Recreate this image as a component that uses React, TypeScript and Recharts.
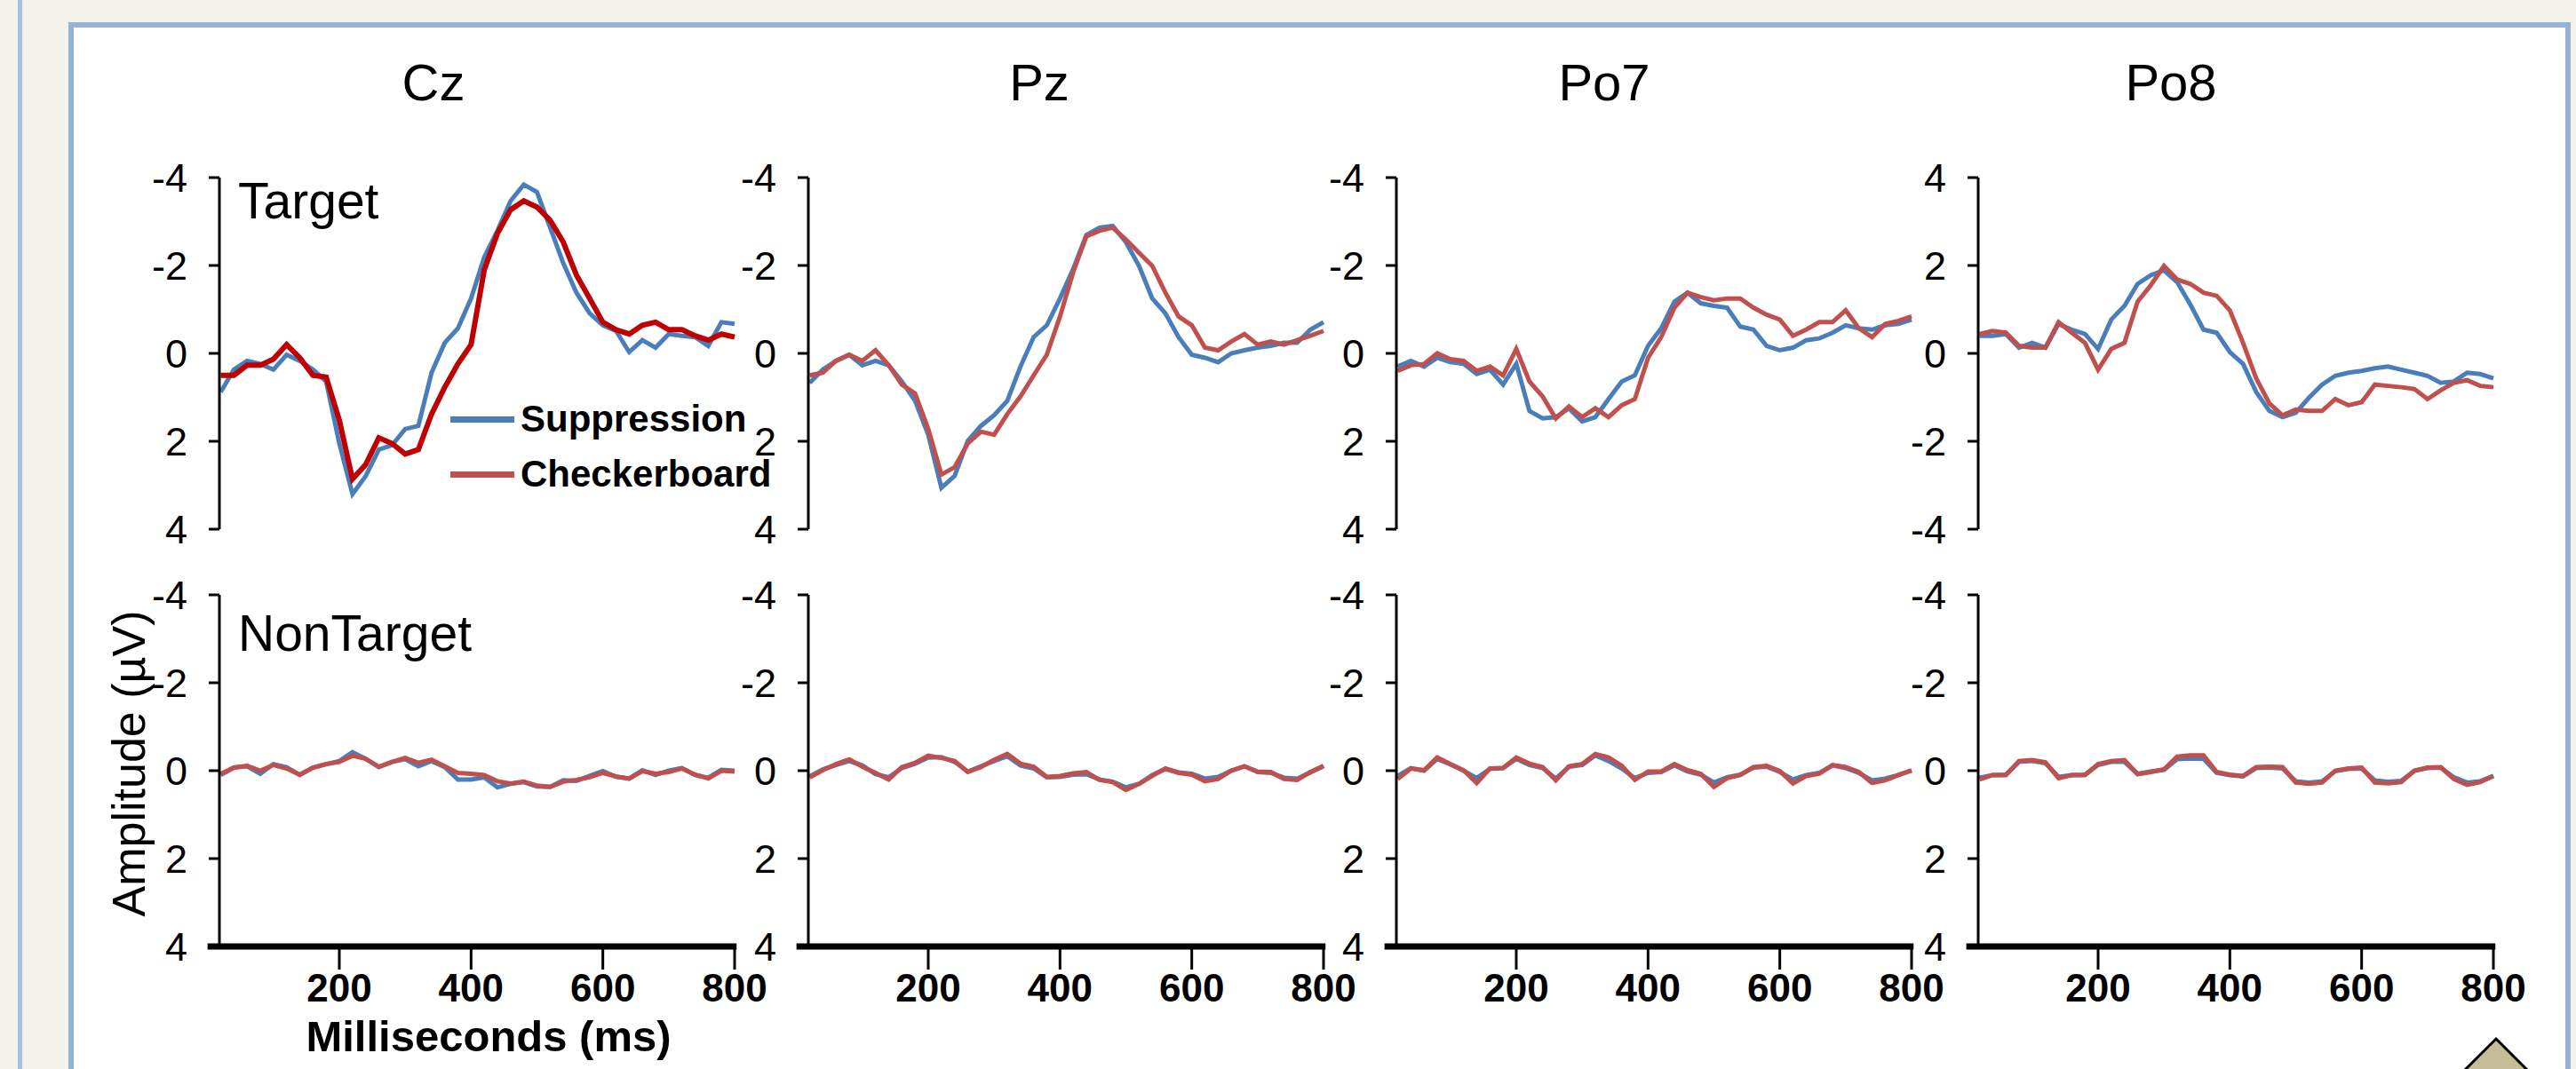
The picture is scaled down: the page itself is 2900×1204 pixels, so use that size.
import { LineChart, Line, XAxis, YAxis, ReferenceLine } from 'recharts';

const FONT = '"Liberation Sans", Arial, sans-serif';
const BLUE = '#4a7ebb';
const RED = '#c0504d';
const CZ_RED = '#c00000';

// time points (ms)
const times = [
  20, 40, 60, 80, 100, 120, 140, 160, 180, 200, 220, 240, 260, 280, 300, 320, 340, 360, 380, 400,
  420, 440, 460, 480, 500, 520, 540, 560, 580, 600, 620, 640, 660, 680, 700, 720, 740, 760, 780, 800,
];
const yTicks = [-4, -2, 0, 2, 4];
const xTicks = [200, 400, 600, 800];

// Target row (µV)
const czTargetSupp = [0.88, 0.37, 0.17, 0.24, 0.37, 0.03, 0.17, 0.37, 0.64, 2.05, 3.2, 2.79, 2.19, 2.09, 1.72, 1.65, 0.44, -0.24, -0.57, -1.25, -2.19, -2.79, -3.47, -3.84, -3.67, -2.86, -2.05, -1.38, -0.91, -0.64, -0.51, -0.03, -0.3, -0.13, -0.44, -0.4, -0.37, -0.17, -0.71, -0.67];
const czTargetCheck = [0.5, 0.5, 0.27, 0.27, 0.13, -0.2, 0.1, 0.5, 0.54, 1.52, 2.86, 2.53, 1.92, 2.05, 2.29, 2.19, 1.38, 0.77, 0.24, -0.2, -1.9, -2.73, -3.27, -3.47, -3.33, -3.03, -2.53, -1.78, -1.25, -0.71, -0.54, -0.44, -0.64, -0.71, -0.54, -0.54, -0.4, -0.3, -0.44, -0.37];
const pzTargetSupp = [0.67, 0.37, 0.17, 0.03, 0.27, 0.17, 0.27, 0.64, 1.08, 1.85, 3.06, 2.79, 1.99, 1.65, 1.41, 1.08, 0.3, -0.37, -0.64, -1.25, -1.92, -2.69, -2.86, -2.9, -2.53, -1.99, -1.25, -0.91, -0.37, 0.03, 0.1, 0.2, 0, -0.07, -0.13, -0.17, -0.24, -0.24, -0.54, -0.71];
const pzTargetCheck = [0.5, 0.44, 0.17, 0.03, 0.17, -0.07, 0.27, 0.71, 0.91, 1.72, 2.76, 2.59, 2.05, 1.78, 1.85, 1.38, 0.98, 0.5, 0.03, -0.84, -1.85, -2.66, -2.79, -2.86, -2.59, -2.29, -1.99, -1.38, -0.84, -0.64, -0.13, -0.07, -0.27, -0.44, -0.2, -0.27, -0.2, -0.3, -0.4, -0.51];
const po7TargetSupp = [0.3, 0.17, 0.3, 0.1, 0.2, 0.24, 0.47, 0.37, 0.71, 0.24, 1.31, 1.48, 1.45, 1.25, 1.55, 1.45, 1.04, 0.64, 0.5, -0.17, -0.57, -1.18, -1.38, -1.14, -1.08, -1.04, -0.61, -0.54, -0.17, -0.07, -0.13, -0.3, -0.34, -0.47, -0.64, -0.57, -0.54, -0.64, -0.67, -0.77];
const po7TargetCheck = [0.4, 0.27, 0.24, 0, 0.13, 0.17, 0.4, 0.3, 0.5, -0.1, 0.64, 0.98, 1.48, 1.21, 1.45, 1.25, 1.45, 1.18, 1.04, 0.1, -0.37, -1.04, -1.38, -1.28, -1.21, -1.25, -1.25, -1.04, -0.88, -0.77, -0.4, -0.54, -0.71, -0.71, -0.98, -0.57, -0.37, -0.67, -0.74, -0.84];
const po8TargetSupp = [0.4, 0.4, 0.44, 0.13, 0.24, 0.13, 0.67, 0.54, 0.44, 0.1, 0.77, 1.08, 1.58, 1.78, 1.89, 1.62, 1.11, 0.54, 0.47, 0.03, -0.24, -0.88, -1.31, -1.45, -1.35, -1.01, -0.71, -0.51, -0.44, -0.4, -0.34, -0.3, -0.37, -0.44, -0.51, -0.67, -0.64, -0.44, -0.47, -0.57];
const po8TargetCheck = [0.44, 0.51, 0.47, 0.17, 0.13, 0.13, 0.71, 0.47, 0.24, -0.37, 0.1, 0.24, 1.18, 1.55, 1.99, 1.68, 1.58, 1.38, 1.31, 0.98, 0.24, -0.57, -1.14, -1.41, -1.28, -1.31, -1.31, -1.04, -1.18, -1.11, -0.71, -0.74, -0.77, -0.81, -1.04, -0.84, -0.67, -0.61, -0.74, -0.77];

// NonTarget row (µV)
const czNonSupp = [0.1, -0.07, -0.1, 0.07, -0.15, -0.08, 0.1, -0.07, -0.15, -0.22, -0.42, -0.27, -0.08, -0.2, -0.26, -0.1, -0.22, -0.08, 0.2, 0.2, 0.15, 0.38, 0.3, 0.26, 0.36, 0.37, 0.22, 0.23, 0.12, 0.01, 0.14, 0.18, -0.01, 0.1, 0, -0.06, 0.1, 0.16, -0.02, 0];
const czNonCheck = [0.07, -0.07, -0.11, 0, -0.13, -0.05, 0.09, -0.07, -0.15, -0.2, -0.34, -0.27, -0.09, -0.2, -0.29, -0.18, -0.25, -0.1, 0.05, 0.07, 0.1, 0.24, 0.29, 0.25, 0.34, 0.37, 0.25, 0.21, 0.15, 0.05, 0.13, 0.18, 0.01, 0.07, 0.03, -0.05, 0.09, 0.18, 0, 0.02];
const pzNonSupp = [0.13, -0.03, -0.13, -0.22, -0.12, 0.08, 0.15, -0.06, -0.16, -0.3, -0.31, -0.2, 0.02, -0.1, -0.22, -0.33, -0.12, -0.05, 0.15, 0.14, 0.09, 0.08, 0.2, 0.25, 0.38, 0.3, 0.1, -0.04, 0.04, 0.07, 0.18, 0.14, 0, -0.1, 0.03, 0.05, 0.16, 0.18, 0.04, -0.1];
const pzNonCheck = [0.15, -0.01, -0.15, -0.26, -0.09, 0.05, 0.2, -0.08, -0.18, -0.34, -0.29, -0.22, 0.03, -0.08, -0.25, -0.38, -0.16, -0.09, 0.14, 0.12, 0.06, 0.03, 0.21, 0.26, 0.44, 0.3, 0.12, -0.05, 0.05, 0.09, 0.24, 0.19, 0, -0.1, 0.02, 0.03, 0.19, 0.21, 0.03, -0.11];
const po7NonSupp = [0.12, -0.06, 0, -0.27, -0.14, 0, 0.17, -0.04, -0.06, -0.27, -0.13, -0.06, 0.18, -0.09, -0.13, -0.35, -0.22, -0.05, 0.17, 0.05, 0.03, -0.12, 0.02, 0.09, 0.27, 0.15, 0.09, -0.07, -0.09, 0.03, 0.2, 0.1, 0.05, -0.12, -0.06, 0.05, 0.22, 0.18, 0.1, 0];
const po7NonCheck = [0.19, -0.05, -0.01, -0.3, -0.15, -0.01, 0.28, -0.05, -0.06, -0.3, -0.16, -0.08, 0.22, -0.1, -0.15, -0.38, -0.3, -0.11, 0.21, 0.02, 0.02, -0.15, -0.01, 0.07, 0.37, 0.17, 0.1, -0.08, -0.11, 0.01, 0.29, 0.12, 0.07, -0.13, -0.08, 0.03, 0.28, 0.22, 0.1, -0.01];
const po8NonSupp = [0.16, 0.1, 0.09, -0.2, -0.22, -0.17, 0.14, 0.1, 0.09, -0.13, -0.2, -0.2, 0.07, 0.02, -0.02, -0.26, -0.28, -0.27, 0.05, 0.1, 0.13, -0.06, -0.07, -0.05, 0.24, 0.27, 0.24, 0.01, -0.04, -0.05, 0.22, 0.25, 0.23, 0, -0.06, -0.07, 0.15, 0.27, 0.24, 0.12];
const po8NonCheck = [0.2, 0.1, 0.1, -0.22, -0.24, -0.19, 0.17, 0.1, 0.1, -0.15, -0.22, -0.24, 0.08, 0.03, -0.03, -0.32, -0.35, -0.35, 0.03, 0.09, 0.12, -0.08, -0.09, -0.08, 0.27, 0.3, 0.27, 0, -0.05, -0.07, 0.27, 0.29, 0.26, 0, -0.07, -0.08, 0.19, 0.32, 0.26, 0.12];

const PLOT_W = 580;
const PLOT_H = 396;
const AXIS_W = 120;
const PAD = 40;
const TARGET_TOP = 200;
const NON_TOP = 670;

const toRows = (supp: number[], check: number[]) =>
  times.map((t, i) => ({ t, supp: supp[i], check: check[i] }));

const panels = [
  { title: 'Cz', titleX: 488, axisX: 247, target: toRows(czTargetSupp, czTargetCheck), non: toRows(czNonSupp, czNonCheck), flipTarget: true, targetRed: CZ_RED },
  { title: 'Pz', titleX: 1170, axisX: 910, target: toRows(pzTargetSupp, pzTargetCheck), non: toRows(pzNonSupp, pzNonCheck), flipTarget: true, targetRed: RED },
  { title: 'Po7', titleX: 1806, axisX: 1572, target: toRows(po7TargetSupp, po7TargetCheck), non: toRows(po7NonSupp, po7NonCheck), flipTarget: true, targetRed: RED },
  { title: 'Po8', titleX: 2444, axisX: 2227, target: toRows(po8TargetSupp, po8TargetCheck), non: toRows(po8NonSupp, po8NonCheck), flipTarget: false, targetRed: RED },
];

interface PanelProps {
  axisX: number;
  plotTop: number;
  rows: { t: number; supp: number; check: number }[];
  reversed: boolean;
  showX: boolean;
  redColor: string;
  redWidth: number;
}

function Panel({ axisX, plotTop, rows, reversed, showX, redColor, redWidth }: PanelProps) {
  const width = AXIS_W + PLOT_W + 40;
  const height = PAD + PLOT_H + (showX ? 110 : PAD);
  return (
    <div style={{ position: 'absolute', left: axisX - AXIS_W, top: plotTop - PAD }}>
      <LineChart
        width={width}
        height={height}
        data={rows}
        margin={{ top: PAD, right: 40, bottom: showX ? 10 : PAD, left: 0 }}
      >
        <XAxis
          type="number"
          dataKey="t"
          domain={[18, 800]}
          ticks={xTicks}
          hide={!showX}
          height={100}
          axisLine={false}
          tickSize={26}
          tickMargin={5}
          tickLine={{ stroke: '#000', strokeWidth: 3 }}
          tick={{ fontSize: 44, fontWeight: 'bold', fill: '#000', fontFamily: FONT }}
        />
        <YAxis
          type="number"
          domain={[-4, 4]}
          ticks={yTicks}
          interval={0}
          reversed={reversed}
          width={AXIS_W}
          axisLine={{ stroke: '#000', strokeWidth: 3 }}
          tickLine={{ stroke: '#000', strokeWidth: 3 }}
          tickSize={12}
          tickMargin={24}
          tick={{ fontSize: 45, fill: '#000', fontFamily: FONT }}
        />
        {showX && (
          <ReferenceLine
            segment={[{ x: 0, y: 4 }, { x: 803, y: 4 }]}
            stroke="#000"
            strokeWidth={7}
            ifOverflow="visible"
          />
        )}
        <Line type="linear" dataKey="supp" stroke={BLUE} strokeWidth={5} dot={false} isAnimationActive={false} />
        <Line type="linear" dataKey="check" stroke={redColor} strokeWidth={redWidth} dot={false} isAnimationActive={false} />
      </LineChart>
    </div>
  );
}

const legendItems = [
  { label: 'Suppression', color: BLUE },
  { label: 'Checkerboard', color: RED },
];

export default function App() {
  return (
    <div
      style={{
        position: 'absolute',
        left: 0,
        top: 0,
        width: 2900,
        height: 1204,
        overflow: 'hidden',
        background: '#f3f2eb',
        fontFamily: FONT,
      }}
    >
      <div style={{ position: 'absolute', left: 20, top: 0, width: 5, height: 1204, background: '#a7bfde' }} />
      <div
        style={{
          position: 'absolute',
          left: 77,
          top: 25,
          width: 2817,
          height: 1300,
          border: '6px solid #95b3d7',
          background: '#fff',
          boxSizing: 'border-box',
        }}
      />

      {panels.map((p) => (
        <Panel
          key={p.title + '-t'}
          axisX={p.axisX}
          plotTop={TARGET_TOP}
          rows={p.target}
          reversed={p.flipTarget}
          showX={false}
          redColor={p.targetRed}
          redWidth={p.title === 'Cz' ? 6 : 5}
        />
      ))}
      {panels.map((p) => (
        <Panel
          key={p.title + '-n'}
          axisX={p.axisX}
          plotTop={NON_TOP}
          rows={p.non}
          reversed={true}
          showX={true}
          redColor={RED}
          redWidth={5}
        />
      ))}

      {/* legend */}
      <div style={{ position: 'absolute', left: 507, top: 441 }}>
        {legendItems.map((item) => (
          <div key={item.label} style={{ display: 'flex', alignItems: 'center', height: 62 }}>
            <span style={{ width: 72, height: 7, background: item.color, marginRight: 7 }} />
            <span style={{ fontSize: 42, fontWeight: 'bold', color: '#000', lineHeight: '62px' }}>{item.label}</span>
          </div>
        ))}
      </div>

      <svg
        width={2900}
        height={1204}
        style={{ position: 'absolute', left: 0, top: 0, pointerEvents: 'none' }}
      >
        {panels.map((p) => (
          <text key={p.title} x={p.titleX} y={113} fontSize={58} fontFamily={FONT} textAnchor="middle" fill="#000">
            {p.title}
          </text>
        ))}
        <text x={268} y={246} fontSize={57} fontFamily={FONT} fill="#000">Target</text>
        <text x={268} y={733} fontSize={57} fontFamily={FONT} fill="#000">NonTarget</text>
        <text
          transform="translate(163,860) rotate(-90)"
          fontSize={52}
          fontFamily={FONT}
          textAnchor="middle"
          fill="#000"
        >
          Amplitude (µV)
        </text>
        <text x={550} y={1184} fontSize={49} fontWeight="bold" fontFamily={FONT} textAnchor="middle" fill="#000">
          Milliseconds (ms)
        </text>
        <polygon points="2810,1170 2850,1210 2810,1250 2770,1210" fill="#c4bd97" stroke="#000" strokeWidth={3} />
      </svg>
    </div>
  );
}
